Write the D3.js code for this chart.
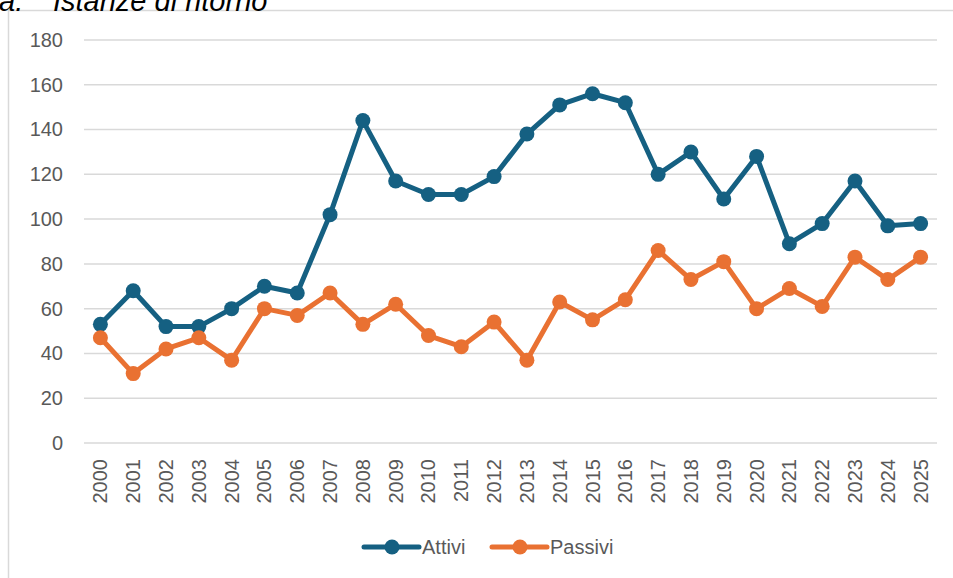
<!DOCTYPE html>
<html>
<head>
<meta charset="utf-8">
<script src="https://cdn.jsdelivr.net/npm/d3@7"></script>
<style>
  body { margin: 0; background: #fff; }
  svg { display: block; font-family: "Liberation Sans", Arial, sans-serif; }
</style>
</head>
<body>
<div id="chart"></div>
<script>
// chart data
var years = ["2000","2001","2002","2003","2004","2005","2006","2007","2008","2009",
  "2010","2011","2012","2013","2014","2015","2016","2017","2018","2019",
  "2020","2021","2022","2023","2024","2025"];
var attivi = [53, 68, 52, 52, 60, 70, 67, 102, 144, 117, 111, 111, 119, 138, 151, 156, 152,
  120, 130, 109, 128, 89, 98, 117, 97, 98];
var passivi = [47, 31, 42, 47, 37, 60, 57, 67, 53, 62, 48, 43, 54, 37, 63, 55, 64,
  86, 73, 81, 60, 69, 61, 83, 73, 83];
var yTicks = [0, 20, 40, 60, 80, 100, 120, 140, 160, 180];

var series = [
  { name: "Attivi", values: attivi, color: "#156082" },
  { name: "Passivi", values: passivi, color: "#E97132" }
];

var width = 953, height = 578;

var svg = d3.select("#chart").append("svg")
  .attr("width", width)
  .attr("height", height);

// chart frame
svg.append("rect")
  .attr("x", 8.5)
  .attr("y", 10.5)
  .attr("width", 960)
  .attr("height", 600)
  .attr("fill", "#fff")
  .attr("stroke", "#d9d9d9")
  .attr("stroke-width", 1.5);

// caption above the chart, cut by the top edge
svg.append("text")
  .attr("x", -1)
  .attr("y", 11)
  .attr("font-size", "29px")
  .attr("font-style", "italic")
  .attr("fill", "#000")
  .text("a:");
svg.append("text")
  .attr("x", 53)
  .attr("y", 11)
  .attr("font-size", "29px")
  .attr("font-style", "italic")
  .attr("fill", "#000")
  .text("Istanze di ritorno");

var x = d3.scaleBand()
  .domain(years)
  .range([84, 937]);

var y = d3.scaleLinear()
  .domain([0, 180])
  .range([443, 40]);

// gridlines
svg.append("g")
  .selectAll("line")
  .data(yTicks)
  .enter()
  .append("line")
    .attr("x1", 84)
    .attr("x2", 937)
    .attr("y1", function (d) { return y(d); })
    .attr("y2", function (d) { return y(d); })
    .attr("stroke", "#d9d9d9")
    .attr("stroke-width", 1.5);

// y axis labels
var yAxis = svg.append("g")
  .attr("transform", "translate(63,0)")
  .call(d3.axisLeft(y).tickValues(yTicks).tickSize(0).tickPadding(0));
yAxis.select(".domain").remove();
yAxis.selectAll("text")
  .attr("font-size", "20px")
  .attr("fill", "#595959")
  .attr("font-family", "Liberation Sans, Arial, sans-serif");

// x axis labels, rotated
var xAxis = svg.append("g")
  .attr("transform", "translate(0,443)")
  .call(d3.axisBottom(x).tickSize(0).tickPadding(0));
xAxis.select(".domain").remove();
xAxis.selectAll("text")
  .attr("font-size", "20px")
  .attr("fill", "#595959")
  .attr("font-family", "Liberation Sans, Arial, sans-serif")
  .attr("text-anchor", "end")
  .attr("dy", "0.35em")
  .attr("transform", "translate(0,16) rotate(-90)");

// lines and markers
var line = d3.line()
  .x(function (d, i) { return x(years[i]) + x.bandwidth() / 2; })
  .y(function (d) { return y(d); });

series.forEach(function (s) {
  svg.append("path")
    .datum(s.values)
    .attr("d", line)
    .attr("fill", "none")
    .attr("stroke", s.color)
    .attr("stroke-width", 5)
    .attr("stroke-linejoin", "round")
    .attr("stroke-linecap", "round");

  svg.append("g")
    .selectAll("circle")
    .data(s.values)
    .enter()
    .append("circle")
      .attr("cx", function (d, i) { return x(years[i]) + x.bandwidth() / 2; })
      .attr("cy", function (d) { return y(d); })
      .attr("r", 7.5)
      .attr("fill", s.color);
});

// legend
var legendX = [364, 492];
var legend = svg.append("g")
  .selectAll("g")
  .data(series)
  .enter()
  .append("g")
    .attr("transform", function (d, i) { return "translate(" + legendX[i] + ",547)"; });

legend.append("line")
  .attr("x1", 0)
  .attr("x2", 55)
  .attr("stroke", function (d) { return d.color; })
  .attr("stroke-width", 5)
  .attr("stroke-linecap", "round");

legend.append("circle")
  .attr("cx", 28)
  .attr("r", 7.5)
  .attr("fill", function (d) { return d.color; });

legend.append("text")
  .attr("x", 58)
  .attr("dy", "0.35em")
  .attr("font-size", "20px")
  .attr("fill", "#595959")
  .text(function (d) { return d.name; });
</script>
</body>
</html>
